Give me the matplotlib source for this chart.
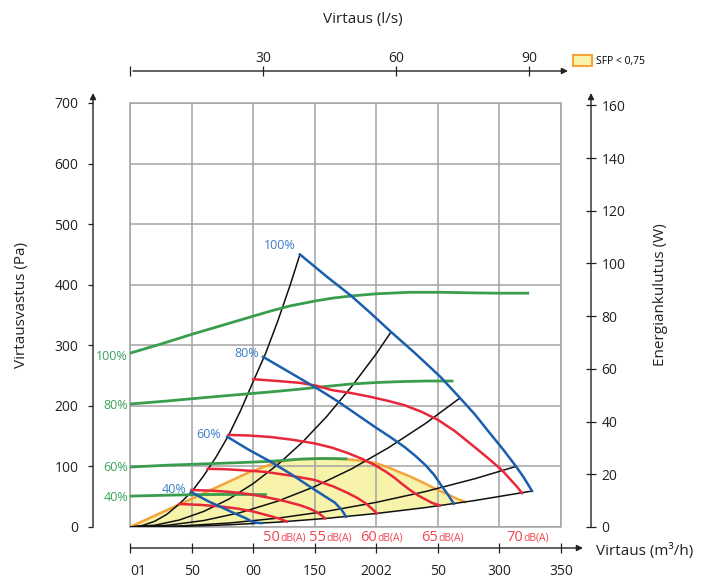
import matplotlib
matplotlib.use("Agg")
import matplotlib.pyplot as plt
from matplotlib.patches import Rectangle, Patch

plt.rcParams['font.family'] = ['Open Sans', 'DejaVu Sans']

# Järjestelmäkäyrät (m3/h, Pa)
sys1_x = [0, 10, 20, 30, 40, 50, 60, 70, 80, 90, 100, 110, 120, 130, 138]
sys1_y = [0, 2.4, 9.4, 21, 38, 58, 85, 116, 151, 193, 240, 286, 340, 399, 450]
sys2_x = [0, 20, 40, 60, 80, 100, 120, 140, 160, 180, 200, 212]
sys2_y = [0, 2.9, 11.5, 25.8, 45.8, 71.6, 103, 140, 183, 232, 286, 322]
sys3_x = [0, 30, 60, 90, 120, 150, 180, 210, 240, 268]
sys3_y = [0, 2.7, 10.7, 24, 42.7, 66.7, 96, 131, 171, 213]
sys4_x = [0, 40, 80, 120, 160, 200, 240, 280, 313.5]
sys4_y = [0, 1.6, 6.5, 14.6, 26, 40.7, 58.6, 79.7, 100]
sys5_x = [0, 40, 80, 120, 160, 200, 240, 280, 326.5]
sys5_y = [0, 0.9, 3.6, 8, 14.3, 22.3, 32.1, 43.7, 59.4]

# Puhallinkäyrät (sininen)
b100_x = [138, 160, 180, 196, 212, 232, 252, 268, 280, 291, 303, 313.5, 320, 326.5]
b100_y = [450, 413, 381, 352, 322, 286, 248, 213, 186, 158, 128, 100, 81, 59.4]
b80_x = [108, 124, 140, 155, 169, 184, 199, 211, 223, 232, 240, 247, 253, 258, 263]
b80_y = [281, 262, 243, 225, 207, 186, 165, 149, 132, 117, 102, 86, 68, 54, 38.5]
b60_x = [79, 96, 114, 131, 148, 158, 166.5, 172, 175.4]
b60_y = [149, 128, 108, 87, 64, 51, 40, 28, 17]
b40_x = [49.5, 63, 77, 86, 93.5, 99, 103, 107]
b40_y = [58, 43, 30, 21.5, 15, 9, 7, 6.4]

# Äänitasokäyrät (punainen)
r50_x = [40, 57, 73, 87, 100, 114, 121, 127.5]
r50_y = [38, 36.5, 34, 30.5, 25.6, 18, 14, 9]
r55_x = [50, 66, 81, 96, 110, 125, 138, 145, 150, 155, 158.4]
r55_y = [61, 60, 58, 54.5, 49.5, 43, 36, 31, 26.4, 20, 14]
r60_x = [63, 76, 89, 110, 130, 150, 165, 177, 185, 191, 196, 200.6]
r60_y = [96, 95.5, 94, 91, 85, 77.6, 67, 56, 47.5, 39.6, 31, 22.4]
r65_x = [80, 97, 114, 132, 150, 164, 177, 189, 199, 208, 215, 221, 227.4, 234, 239.6, 245, 251.7]
r65_y = [152, 151, 148.6, 144, 138, 131, 122, 112, 102, 91, 81, 71, 61, 52, 46, 40, 35.5]
r70_x = [100, 120, 138, 152, 164, 180, 195, 210, 223, 237, 250, 264, 278, 290, 302, 310, 314.5, 318.3]
r70_y = [244, 241, 238, 233, 226, 221, 215, 208, 201, 190, 177, 158, 135, 115, 94, 76, 66, 56]

# Energiankulutus (vihreä)
g100_x = [0, 25, 50, 75, 100, 115, 130, 150, 165, 180, 200, 227, 252, 280, 300, 323]
g100_y = [287, 302, 318, 333, 348, 357, 365, 373, 378, 381.5, 385, 387.5, 387.5, 386.5, 386, 386]
g80_x = [0, 30, 57, 85, 114, 135, 154, 179, 200, 219, 240, 261.5]
g80_y = [203, 208, 213, 218, 223, 227, 231, 236, 238.5, 240, 241, 241]
g60_x = [0, 30, 57, 85, 110, 125, 138, 154, 165, 175.4]
g60_y = [99, 102, 104, 106, 108, 110, 112, 113, 113, 112.5]
g40_x = [0, 30, 57, 85, 110]
g40_y = [51, 52.5, 53.5, 53.8, 53.5]

# SFP < 0,75 alue
sfp_x = [0, 57, 97.5, 115, 122, 130, 138, 154, 175.4, 188, 199, 209, 217.6, 227.4, 239.6, 248, 255.8, 264, 272]
sfp_y = [0, 53, 91, 104, 108, 110.5, 112, 113, 112, 109.5, 105.7, 99, 91.6, 83.4, 71.8, 63, 56, 48, 41.2]

bottom_labels = ["01", "50", "00", "150", "2002", "50", "300", "350"]
db_levels = ["50", "55", "60", "65", "70"]
db_x = [121.8, 159.2, 200.6, 250.1, 319.1]
pct = ["100%", "80%", "60%", "40%"]
blue_lab_xy = [(121.8, 464), (95, 287), (64.2, 152), (35.7, 62.7)]
green_lab_y = [282, 200, 99, 49.5]

dark = "#222222"
grid_c = "#a3a3a3"
c_green = "#3a9d4e"
c_blue = "#1a5fad"
c_red = "#e8283a"
c_orange = "#f4a43a"
c_yellow = "#f7f3aa"

fig = plt.figure(figsize=(7.12, 5.80), dpi=100)
ax = fig.add_axes([130 / 712, 53 / 580, 431 / 712, 424 / 580])
ax.set_xlim(0, 350)
ax.set_ylim(0, 700)

# keltainen alue
poly_x = sfp_x + [x for x in sys5_x if x < 272][::-1]
poly_y = sfp_y + [y for x, y in zip(sys5_x, sys5_y) if x < 272][::-1]
ax.fill(poly_x, poly_y, color=c_yellow, zorder=0.2, lw=0)
ax.plot(sfp_x, sfp_y, color=c_orange, lw=1.8, zorder=3, solid_joinstyle='round')

for xs, ys in [(sys1_x, sys1_y), (sys2_x, sys2_y), (sys3_x, sys3_y),
               (sys4_x, sys4_y), (sys5_x, sys5_y)]:
    ax.plot(xs, ys, color="#111111", lw=1.1, zorder=3.2, solid_joinstyle='round')

for xs, ys in [(g100_x, g100_y), (g80_x, g80_y), (g60_x, g60_y), (g40_x, g40_y)]:
    ax.plot(xs, ys, color=c_green, lw=2, zorder=4, solid_joinstyle='round')

for xs, ys in [(r50_x, r50_y), (r55_x, r55_y), (r60_x, r60_y),
               (r65_x, r65_y), (r70_x, r70_y)]:
    ax.plot(xs, ys, color=c_red, lw=1.8, zorder=5, solid_joinstyle='round')

for xs, ys in [(b100_x, b100_y), (b80_x, b80_y), (b60_x, b60_y), (b40_x, b40_y)]:
    ax.plot(xs, ys, color=c_blue, lw=1.8, zorder=6, solid_joinstyle='round')

# tekstit
for t, (x, y) in zip(pct, blue_lab_xy):
    ax.text(x, y, t, color="#3b7dc4", fontsize=9, ha="center", va="center")
for t, y in zip(pct, green_lab_y):
    ax.text(-1.5, y, t, color="#3aa35a", fontsize=9, ha="right", va="center")
for n, x in zip(db_levels, db_x):
    ax.text(x, -23, n, color="#f0454f", fontsize=10.5, ha="right", va="baseline")
    ax.text(x, -23, "dB(A)", color="#f0454f", fontsize=7.5, ha="left", va="baseline")

# ruudukko ja kehys
ax.set_axisbelow(True)
ax.grid(True, color=grid_c, lw=1.1)
ax.add_patch(Rectangle((0, 0), 1, 1, transform=ax.transAxes, fill=False,
                       edgecolor=grid_c, lw=1.1, zorder=0.6, clip_on=False))
for s in ax.spines.values():
    s.set_visible(False)
ax.spines['left'].set_position(('outward', 26.6))
ax.spines['bottom'].set_position(('outward', 15.1))
ax.set_xticks(range(0, 351, 50))
ax.set_xticklabels(bottom_labels)
ax.get_xticklabels()[0].set_ha('left')
ax.set_yticks(range(0, 701, 100))
ax.tick_params(axis='x', direction='inout', length=7, width=0.9, pad=8,
               colors=dark, labelsize=10)
ax.tick_params(axis='y', direction='out', length=3.6, width=0.9, pad=7,
               colors=dark, labelsize=10)

# oikea akseli (W)
ax2 = ax.twinx()
ax2.set_ylim(0, 160.9)
ax2.set_yticks(range(0, 161, 20))
for s in ax2.spines.values():
    s.set_visible(False)
ax2.spines['right'].set_position(('outward', 21.6))
ax2.tick_params(axis='y', direction='inout', length=7, width=0.9, pad=4,
                colors=dark, labelsize=10)

# yläakseli (l/s)
ax3 = ax.twiny()
ax3.set_xlim(0, 350 / 3.6)
ax3.set_xticks([0, 30, 60, 90])
ax3.set_xticklabels(["", "30", "60", "90"])
for s in ax3.spines.values():
    s.set_visible(False)
ax3.spines['top'].set_position(('outward', 23))
ax3.tick_params(axis='x', direction='inout', length=7, width=0.9, pad=0.5,
                colors=dark, labelsize=10)

# akseliviivat nuolilla
arrow = dict(arrowstyle='-|>', color=dark, lw=1, mutation_scale=9, shrinkA=0, shrinkB=0)
for (x0, y0), (x1, y1) in [((-0.0858, 0), (-0.0858, 1.0236)),
                           ((0.002, -0.0495), (1.051, -0.0495)),
                           ((1.0696, 0), (1.0696, 1.0236)),
                           ((0.007, 1.0755), (1.0162, 1.0755))]:
    ax.annotate('', xy=(x1, y1), xytext=(x0, y0), xycoords='axes fraction',
                textcoords='axes fraction', arrowprops=arrow, annotation_clip=False)

fig.text(363 / 712, 1 - 20 / 580, "Virtaus (l/s)", ha="center", va="center",
         fontsize=11, color=dark)
fig.text(22 / 712, 1 - 305 / 580, "Virtausvastus (Pa)", ha="center", va="center",
         rotation=90, fontsize=11, color=dark)
fig.text(660 / 712, 1 - 295 / 580, "Energiankulutus (W)", ha="center", va="center",
         rotation=90, fontsize=11, color=dark)
fig.text(596 / 712, 1 - 551 / 580, "Virtaus (m³/h)", ha="left", va="center",
         fontsize=11, color=dark)

fig.legend([Patch(facecolor=c_yellow, edgecolor=c_orange, lw=1.5)], ["SFP < 0,75"],
           loc="center left", bbox_to_anchor=(573 / 712, 1 - 61 / 580), frameon=False,
           fontsize=7.5, handlelength=1.8, handleheight=1.25, borderpad=0,
           handletextpad=0.4, borderaxespad=0)

fig.savefig("out.png", dpi=100)
